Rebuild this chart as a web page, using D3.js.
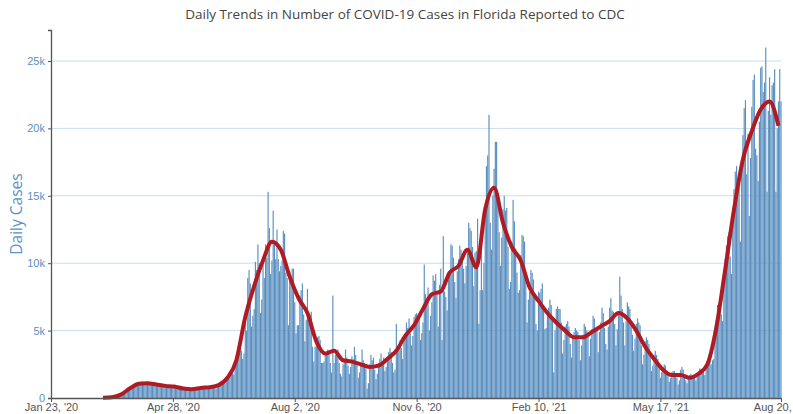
<!DOCTYPE html>
<html>
<head>
<meta charset="utf-8">
<script src="https://cdn.jsdelivr.net/npm/d3@7"></script>
<style>
  body { margin: 0; background: #fff; }
  svg { display: block; }
</style>
</head>
<body>
<svg width="793" height="414"></svg>
<script>
// 데이터: 2020-03-01 (일요일) 부터 하루 단위, 한 줄 = 한 주
const firstDay = new Date(2020, 2, 1);
const dailyCases = [
  2, 0, 1, 3, 4, 7, 9,
  12, 16, 22, 38, 52, 75, 110,
  120, 150, 170, 250, 320, 390, 520,
  480, 560, 640, 700, 800, 900, 1000,
  950, 880, 1010, 1050, 1150, 1200, 1230,
  1100, 980, 1120, 1180, 1150, 1100, 1080,
  1050, 900, 980, 1020, 1100, 1040, 960,
  940, 800, 880, 920, 960, 900, 880,
  820, 720, 850, 880, 920, 870, 860,
  780, 620, 680, 700, 740, 720, 680,
  620, 560, 650, 700, 720, 680, 600,
  640, 620, 760, 780, 850, 820, 760,
  700, 650, 820, 850, 880, 860, 840,
  760, 700, 900, 1050, 1100, 1150, 1000,
  1100, 1050, 1300, 1400, 1700, 1900, 2000,
  2000, 1750, 2600, 2600, 3200, 3800, 4000,
  3500, 2900, 3300, 5500, 5000, 8900, 9500,
  8500, 5300, 6100, 6600, 10100, 9500, 11400,
  10000, 6300, 7300, 9900, 8900, 11400, 10400,
  15300, 12600, 9200, 10200, 13900, 11500, 10300,
  12500, 10300, 9400, 9800, 10200, 12400, 12200,
  9300, 8900, 5400, 9400, 9000, 9600, 9600,
  7100, 4800, 5400, 5400, 7600, 8000, 8500,
  6200, 4200, 5800, 8100, 6200, 6200, 6400,
  3800, 2700, 3800, 4100, 4500, 4600, 4300,
  2600, 2600, 2700, 3200, 3300, 3600, 3400,
  2600, 1900, 7600, 2600, 3200, 3200, 3600,
  2600, 1800, 1600, 2500, 2900, 3600, 3000,
  2400, 1800, 2300, 3100, 2900, 3800, 3200,
  2500, 1500, 1900, 2500, 3600, 2800, 2600,
  2200, 700, 1100, 2500, 3200, 2800, 3000,
  2100, 1400, 1800, 2600, 2900, 3300, 2700,
  3000, 2000, 2300, 2800, 3400, 3700, 3400,
  2600, 1900, 2100, 5500, 3400, 4000, 4300,
  3700, 2900, 4400, 4500, 5600, 5200, 5900,
  4800, 3900, 4600, 6000, 6200, 6300, 5800,
  6100, 4300, 4800, 5600, 9900, 7700, 7300,
  8200, 5000, 6100, 7100, 9100, 8700, 9200,
  7800, 5300, 8400, 9600, 4300, 12000, 7900,
  7500, 6500, 8800, 9400, 11400, 11300, 10400,
  8600, 7400, 9400, 10300, 11300, 11000, 10600,
  9600, 8500, 9800, 11100, 13000, 12600, 12400,
  11200, 8300, 10800, 10900, 13300, 5500, 8000,
  11000, 8000, 10000, 13700, 17200, 18000, 21000,
  13000, 11000, 15000, 17000, 19000, 19000, 15200,
  12300, 9800, 11900, 14000, 15000, 13900, 14100,
  11200, 8100, 8600, 11600, 14700, 13100, 11100,
  9300, 7800, 8000, 10600, 12100, 12000, 11600,
  9000, 5600, 7300, 7900, 9500, 9300, 8800,
  7600, 5500, 5000, 7900, 7800, 8100, 8500,
  6700, 5100, 5200, 6200, 6700, 7300, 6900,
  5700, 1900, 5000, 6600, 6800, 6600, 6600,
  5600, 3300, 4300, 5300, 5500, 5700, 5300,
  4000, 3000, 4500, 4900, 5200, 5000, 4900,
  4300, 2800, 3900, 4700, 5500, 5300, 5000,
  4600, 3100, 4400, 5100, 6100, 5900, 5100,
  5000, 3400, 4900, 5600, 6700, 6300, 5200,
  4000, 3600, 5300, 6700, 7400, 6500, 6400,
  5500, 3900, 5100, 6400, 9000, 7600, 6600,
  5600, 3900, 5700, 7100, 6800, 6600, 5600,
  4700, 3500, 4400, 5500, 5900, 5600, 5400,
  3900, 2500, 3200, 4200, 4500, 4300, 4000,
  3100, 2000, 2400, 3200, 3500, 3200, 2900,
  2200, 1500, 1900, 2300, 2500, 2400, 1900,
  1700, 1200, 1500, 1900, 2000, 2000, 1600,
  1500, 1000, 1300, 2100, 2300, 2100, 1600,
  1300, 1100, 1400, 1700, 1800, 1700, 1500,
  1600, 1300, 1600, 1900, 2200, 2100, 1900,
  2100, 1700, 2400, 2700, 3000, 3100, 2500,
  2800, 2900, 4900, 5800, 6900, 6700, 6400,
  6200, 5700, 8700, 10300, 11300, 12000, 12300,
  10500, 9200, 13100, 15500, 16800, 17200, 15700,
  15700, 11600, 16900, 19500, 21500, 22100, 16600,
  19600, 13500, 17800, 21600, 23600, 24000, 18500,
  18000, 16100, 20500, 24500, 24600, 22700, 23400,
  26000, 15300, 21300, 23800, 21000, 23200, 23400,
  24400, 15300, 20000, 22000, 24400, 22000
];

// 7일 평균: 2020-03-04 부터 한 주 간격
const avgFirstDay = new Date(2020, 2, 4);
const avgCases = [
  10, 50, 250, 700, 1050, 1100, 1000, 900, 850, 700,
  650, 750, 800, 950, 1500, 2800, 6000, 8300, 10200, 11600,
  11000, 9000, 7400, 6300, 4200, 3300, 3500, 2800, 2700, 2500,
  2300, 2400, 2900, 3500, 4600, 5400, 6600, 7700, 7900, 9300,
  9800, 11000, 9700, 14000, 15600, 13000, 11200, 10200, 8200, 7200,
  6300, 5600, 5000, 4500, 4500, 4900, 5300, 5700, 6300, 5900,
  5000, 3800, 2900, 2100, 1700, 1700, 1500, 1800, 2500, 5200,
  9500, 14000, 17700, 19800, 21400, 22000, 20200
];

const yTicks = [0, 5000, 10000, 15000, 20000, 25000];
const xTickDates = ["2020-01-23", "2020-04-28", "2020-08-02", "2020-11-06", "2021-02-10", "2021-05-17", "2021-08-20"];
const xTickLabels = ["Jan 23, '20", "Apr 28, '20", "Aug 2, '20", "Nov 6, '20", "Feb 10, '21", "May 17, '21", "Aug 20, '21"];

const svg = d3.select("svg");
const plotLeft = 51, plotRight = 781, plotTop = 30, plotBottom = 398;

const parseDay = d3.timeParse("%Y-%m-%d");

const x = d3.scaleTime()
  .domain([parseDay("2020-01-23"), parseDay("2021-08-20")])
  .range([plotLeft, plotRight]);

const y = d3.scaleLinear()
  .domain([0, 27300])
  .range([plotBottom, plotTop]);

// 격자선
svg.append("g")
  .selectAll("line")
  .data(yTicks.slice(1))
  .join("line")
  .attr("x1", plotLeft)
  .attr("x2", plotRight)
  .attr("y1", d => y(d))
  .attr("y2", d => y(d))
  .attr("stroke", "#c9dcee")
  .attr("stroke-width", 1);

// 막대
const bars = dailyCases.map((v, i) => ({ date: d3.timeDay.offset(firstDay, i), v: v }));
const barW = 1.15;

svg.append("g")
  .selectAll("rect")
  .data(bars)
  .join("rect")
  .attr("x", d => x(d.date) - barW / 2)
  .attr("y", d => y(d.v))
  .attr("width", barW)
  .attr("height", d => plotBottom - y(d.v))
  .attr("fill", "#5a8fc0");

// 7일 평균 선
const avg = avgCases.map((v, i) => ({ date: d3.timeDay.offset(avgFirstDay, i * 7), v: v }));

svg.append("path")
  .datum(avg)
  .attr("fill", "none")
  .attr("stroke", "#ae1b22")
  .attr("stroke-width", 4)
  .attr("stroke-linejoin", "round")
  .attr("d", d3.line()
    .x(d => x(d.date))
    .y(d => y(d.v))
    .curve(d3.curveMonotoneX));

// y 축
const yAxis = svg.append("g")
  .attr("transform", `translate(${plotLeft},0)`)
  .call(d3.axisLeft(y)
    .tickValues(yTicks)
    .tickSize(3)
    .tickSizeOuter(3)
    .tickFormat(d => d === 0 ? "0" : d / 1000 + "k"));

yAxis.select(".domain").attr("stroke", "#555").attr("stroke-width", 1.3);
yAxis.selectAll(".tick line").attr("stroke", "#555");
yAxis.selectAll(".tick text")
  .attr("fill", "#5b8fc4")
  .style("font-family", "'Liberation Sans', Arial, sans-serif")
  .style("font-size", "11px");

// x 축
const xAxis = svg.append("g")
  .attr("transform", `translate(0,${plotBottom})`)
  .call(d3.axisBottom(x)
    .tickValues(xTickDates.map(parseDay))
    .tickSize(4)
    .tickSizeOuter(0)
    .tickFormat((d, i) => xTickLabels[i]));

xAxis.select(".domain").attr("stroke", "#555").attr("stroke-width", 1.3);
xAxis.selectAll(".tick line").attr("stroke", "#555");
xAxis.selectAll(".tick text")
  .attr("fill", "#555")
  .attr("y", 12.5)
  .attr("dy", 0)
  .style("font-family", "'Liberation Sans', Arial, sans-serif")
  .style("font-size", "11px");

// 제목
svg.append("text")
  .attr("x", 405)
  .attr("y", 19)
  .attr("text-anchor", "middle")
  .attr("fill", "#444")
  .style("font-family", "'Open Sans', sans-serif")
  .style("font-size", "13.5px")
  .text("Daily Trends in Number of COVID-19 Cases in Florida Reported to CDC");

// y 축 제목
svg.append("text")
  .attr("transform", "translate(22,214) rotate(-90)")
  .attr("text-anchor", "middle")
  .attr("fill", "#5a92cb")
  .style("font-family", "'Open Sans', sans-serif")
  .style("font-size", "15.5px")
  .text("Daily Cases");
</script>
</body>
</html>
